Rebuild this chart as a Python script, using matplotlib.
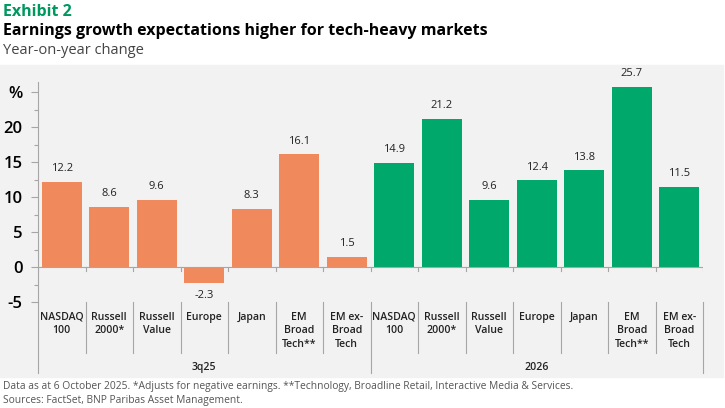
import numpy as np
import matplotlib.pyplot as plt
from matplotlib.patches import Rectangle

# data
groups = ['3q25', '2026']
categories = ['NASDAQ\n100', 'Russell\n2000*', 'Russell\nValue', 'Europe',
              'Japan', 'EM\nBroad\nTech**', 'EM ex-\nBroad\nTech']
vals_3q25 = [12.2, 8.6, 9.6, -2.3, 8.3, 16.1, 1.5]
vals_2026 = [14.9, 21.2, 9.6, 12.4, 13.8, 25.7, 11.5]
yticks = [-5, 0, 5, 10, 15, 20]

orange = '#F08A5D'
green = '#00A86B'
grey_txt = '#555555'
axis_col = '#A6A6A6'

plt.rcParams['font.family'] = ['Open Sans', 'DejaVu Sans']

fig = plt.figure(figsize=(7.25, 4.08), dpi=100, facecolor='white')
W, H = 725, 408

# grey panel behind the chart
fig.patches.append(Rectangle((0, 1 - 377 / H), 723 / W, (377 - 65) / H,
                             transform=fig.transFigure, color='#F2F2F2', zorder=-5))

fig.text(3 / W, 1 - 12 / H, 'Exhibit 2', color='#00985F', fontsize=11.5,
         fontweight='bold', va='center', ha='left')
fig.text(3 / W, 1 - 31 / H, 'Earnings growth expectations higher for tech-heavy markets',
         color='black', fontsize=11.5, fontweight='bold', va='center', ha='left')
fig.text(3 / W, 1 - 50 / H, 'Year-on-year change', color='#444444', fontsize=10.5,
         va='center', ha='left')
fig.text(3 / W, 1 - 386 / H,
         'Data as at 6 October 2025. *Adjusts for negative earnings. **Technology, Broadline Retail, Interactive Media & Services.',
         color=grey_txt, fontsize=7.4, va='center', ha='left')
fig.text(3 / W, 1 - 401 / H, 'Sources: FactSet, BNP Paribas Asset Management.',
         color=grey_txt, fontsize=7.4, va='center', ha='left')

ax = fig.add_axes([38 / W, 1 - 302 / H, (703 - 38) / W, (302 - 81.5) / H])
ax.set_facecolor('none')

n = len(categories)
vals = vals_3q25 + vals_2026
x = np.arange(2 * n)
colors = [orange] * n + [green] * n
ax.bar(x, vals, width=0.84, color=colors, zorder=2)

for xi, v in zip(x, vals):
    if v >= 0:
        ax.text(xi, v + 1.1, f'{v:.1f}', ha='center', va='bottom', fontsize=8, color='#222222')
    else:
        ax.text(xi, v - 1.0, f'{v:.1f}', ha='center', va='top', fontsize=8, color='#222222')

ax.set_xlim(-0.5, 2 * n - 0.5)
ax.set_ylim(-5, 26.5)

for s in ['top', 'right', 'bottom']:
    ax.spines[s].set_visible(False)
ax.spines['left'].set_color(axis_col)
ax.spines['left'].set_linewidth(0.8)

ax.set_yticks(yticks + [25])
ax.set_yticklabels([str(t) for t in yticks] + ['%'], fontsize=12, fontweight='semibold')
ax.set_yticks(np.arange(-5, 26, 2.5), minor=True)
ax.tick_params(axis='y', which='both', length=5, color=axis_col, width=0.8, pad=6)
ax.tick_params(axis='y', which='minor', length=3)
ax.set_xticks([])

# zero line with small ticks at category borders
ax.axhline(0, color=axis_col, lw=0.8, zorder=3)
for b in np.arange(-0.5, 2 * n, 1.0):
    ax.plot([b, b], [0, -0.6], color=axis_col, lw=0.8, zorder=3)

# category label table below axis
for b in np.arange(-0.5, 2 * n, 1.0):
    bottom = -15.1 if b in (-0.5, n - 0.5, 2 * n - 0.5) else -12.3
    ax.plot([b, b], [-5, bottom], color=axis_col, lw=0.8, clip_on=False)

for g in range(2):
    for i, c in enumerate(categories):
        ax.text(g * n + i, -6.4, c, ha='center', va='top', fontsize=7.6,
                fontweight='semibold', color='#222222', linespacing=1.3, clip_on=False)
    ax.text(g * n + (n - 1) / 2, -14.3, groups[g], ha='center', va='center',
            fontsize=7.6, fontweight='semibold', color='#222222', clip_on=False)

fig.savefig('out.png', dpi=100, facecolor='white')
